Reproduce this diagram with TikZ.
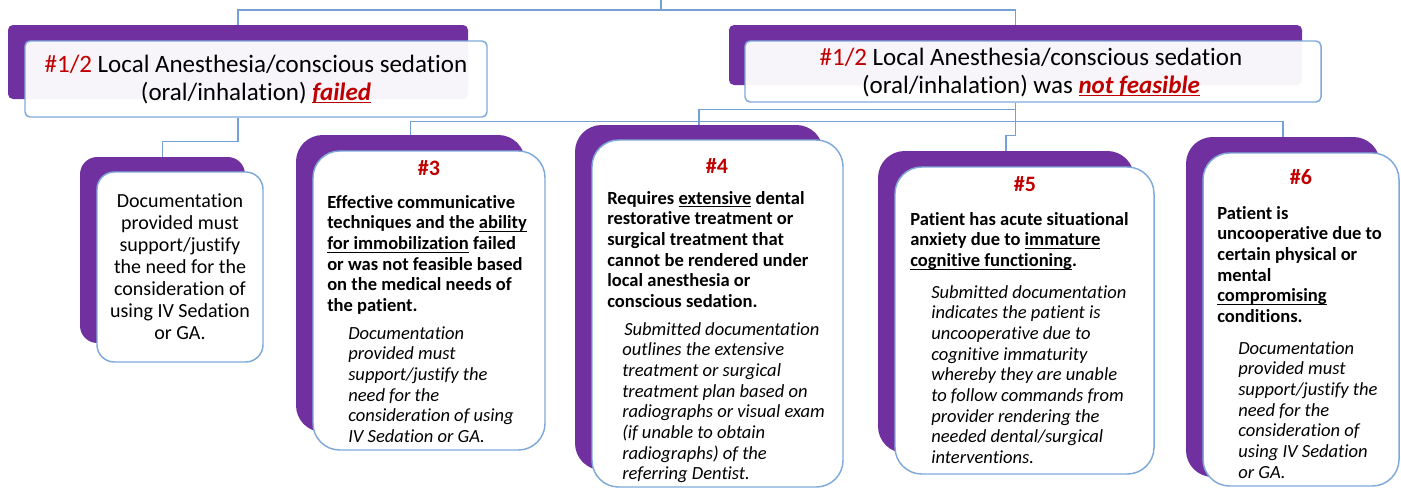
\documentclass[tikz,border=0pt]{standalone}
\usepackage{fontspec}
\setmainfont{Carlito}[Ligatures=NoCommon]
\newcommand{\undl}[1]{\leavevmode\setbox0=\hbox{#1}\rlap{\rule[-2.3pt]{\wd0}{0.85pt}}\box0\relax}
\definecolor{purp}{HTML}{7030A0}
\definecolor{edge}{HTML}{7FA9D9}
\definecolor{link}{HTML}{75A0D4}
\definecolor{hashred}{HTML}{C00000}
\tikzset{
  back/.style={fill=purp, inner sep=0pt, rounded corners=#1},
  card/.style={draw=edge, fill=white, line width=1.1pt, inner sep=0pt, rounded corners=#1},
  link/.style={draw=link, line width=1.1pt},
  toptext/.style={font=\fontsize{18.75}{21}\selectfont, align=center, inner sep=0pt, anchor=north},
  doctext/.style={font=\fontsize{15}{16.5}\selectfont, align=center, inner sep=0pt, anchor=north},
  head/.style={text=hashred, font=\bfseries\fontsize{16.5}{18}\selectfont, inner sep=0pt},
  main/.style={font=\bfseries\fontsize{13.9}{15.5}\selectfont, align=left, inner sep=0pt, anchor=north west},
  note/.style={font=\itshape\fontsize{13.9}{15.5}\selectfont, align=left, inner sep=0pt, anchor=north west}
}
\begin{document}
\begin{tikzpicture}[x=0.75pt, y=-0.75pt]
		\useasboundingbox (0,0) rectangle (1401,489);
		% top level boxes
		\node[back=3.75pt, minimum width=345pt, minimum height=55.5pt] (L0b) at (238,62) {};
		\node[card=3.75pt, fill opacity=0.95, minimum width=346.5pt, minimum height=57pt] (L0) at (256,79) {};
		\node[back=3.75pt, minimum width=429.75pt, minimum height=45pt] (R0b) at (1015.5,55) {};
		\node[card=3.75pt, fill opacity=0.95, minimum width=432pt, minimum height=45.75pt] (R0) at (1033,71.5) {};
		\node[toptext] (tL) at (256,54.5) {\textcolor{hashred}{\#1/2} Local Anesthesia/conscious sedation\\(oral/inhalation) \textcolor{hashred}{\undl{\textbf{\textit{failed}}}}};
		\node[toptext] (tR) at (1031,47.5) {\textcolor{hashred}{\#1/2} Local Anesthesia/conscious sedation\\(oral/inhalation) was \textcolor{hashred}{\undl{\textbf{\textit{not feasible}}}}};
		% second level boxes
		\node[back=13pt, minimum width=123.75pt, minimum height=139.5pt] (Db) at (162.5,250) {};
		\node[card=13pt, minimum width=124.5pt, minimum height=142.5pt] (D) at (180,267) {};
		\node[back=20pt, minimum width=171.75pt, minimum height=222.75pt] (B3b) at (410.5,283.5) {};
		\node[card=20pt, minimum width=174pt, minimum height=224.25pt] (B3) at (429,300.5) {};
		\node[back=20pt, minimum width=186pt, minimum height=258.75pt] (B4b) at (699,297.5) {};
		\node[card=20pt, minimum width=188.25pt, minimum height=260.25pt] (B4) at (717.5,313.5) {};
		\node[back=20pt, minimum width=192pt, minimum height=226.5pt] (B5b) at (1006,302) {};
		\node[card=20pt, minimum width=194.25pt, minimum height=230.25pt] (B5) at (1024.5,320.5) {};
		\node[back=20pt, minimum width=145.5pt, minimum height=255pt] (B6b) at (1283,307) {};
		\node[card=20pt, minimum width=147pt, minimum height=249.75pt] (B6) at (1301,319.5) {};
		% texts
		\node[doctext] (tD) at (180,193.5) {Documentation\\provided must\\support/justify\\the need for the\\consideration of\\using IV Sedation\\or GA.};
		\node[head] (h3) at (429,168.5) {\#3};
		\node[main] (t3) at (327,195) {Effective communicative\\techniques and the \undl{ability}\\ \undl{for immobilization} failed\\or was not feasible based\\on the medical needs of\\the patient.};
		\node[note] (n3) at (348,326) {Documentation\\provided must\\support/justify the\\need for the\\consideration of using\\IV Sedation or GA.};
		\node[head] (h4) at (717,165.5) {\#4};
		\node[main] (t4) at (607,191) {Requires \undl{extensive} dental\\restorative treatment or\\surgical treatment that\\cannot be rendered under\\local anesthesia or\\conscious sedation.};
		\node[note] (n4) at (622,322) {\hspace{1.5pt}Submitted documentation\\outlines the extensive\\treatment or surgical\\treatment plan based on\\radiographs or visual exam\\(if unable to obtain\\radiographs) of the\\referring Dentist.};
		\node[head] (h5) at (1025,184.5) {\#5};
		\node[main] (t5) at (910,212) {Patient has acute situational\\anxiety due to \undl{immature}\\ \undl{cognitive functioning}.};
		\node[note] (n5) at (931,285) {Submitted documentation\\indicates the patient is\\uncooperative due to\\cognitive immaturity\\whereby they are unable\\to follow commands from\\provider rendering the\\needed dental/surgical\\interventions.};
		\node[head] (h6) at (1301,177.5) {\#6};
		\node[main] (t6) at (1217,206) {Patient is\\uncooperative due to\\certain physical or\\mental\\ \undl{compromising}\\conditions.};
		\node[note] (n6) at (1238,341) {Documentation\\provided must\\support/justify the\\need for the\\consideration of\\using IV Sedation\\or GA.};
		% connectors
		\coordinate (top) at (661,0);
		\coordinate (hub) at (661,10);
		\draw[link] (top) -- (hub);
		\draw[link] (L0b.north) |- (hub) -| (R0b.north);
		\draw[link] (L0b.center |- L0.south) -- ++(0,24) -| (Db.north);
		\coordinate (rj) at (R0b.center |- R0.south);
		\draw[link] (rj) -- ++(0,7) -| (B4b.north);
		\draw[link] (rj) -- ++(0,19) coordinate (rk);
		\draw[link] (B3b.north) |- (rk) -| (B6b.north);
		\draw[link] (rk) -- ++(0,14) -| (B5b.north);
	\end{tikzpicture}
\end{document}
